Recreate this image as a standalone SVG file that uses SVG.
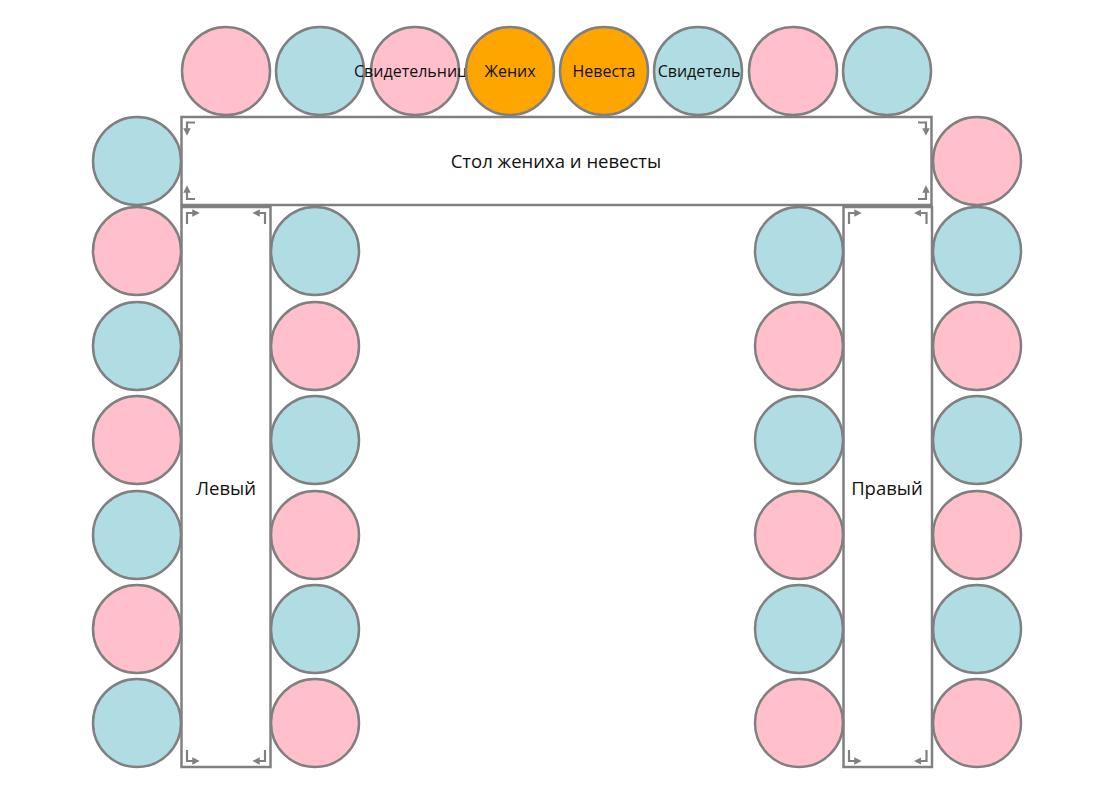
<svg xmlns="http://www.w3.org/2000/svg" width="1108" height="802" viewBox="0 0 1108 802">
<style>
.p{fill:#FFC0CB;stroke:#808080;stroke-width:2.5}
.b{fill:#B0DDE4;stroke:#808080;stroke-width:2.5}
.o{fill:#FFA500;stroke:#808080;stroke-width:2.5}
.t{fill:#fff;stroke:#808080;stroke-width:2.5}
.c{fill:none;stroke:#808080;stroke-width:2.2;marker-end:url(#ah)}
text{font-family:"Open Sans","Noto Sans","Liberation Sans",sans-serif;fill:#111;text-anchor:middle;dominant-baseline:central}
.s{font-size:16px}
.l{font-size:18.5px}
</style>
<defs>
<marker id="ah" viewBox="0 0 6 6" refX="3" refY="3" markerWidth="3.4" markerHeight="3.4" orient="auto" markerUnits="strokeWidth">
<path d="M0,0 L6,3 L0,6 z" fill="#808080"/>
</marker>
</defs>
<rect width="1108" height="802" fill="#fff"/>
<g id="table-top"><rect class="t" x="181.5" y="117" width="750" height="88"/><text class="l" x="556" y="160">Стол жениха и невесты</text>
<path class="c" d="M195,122.5 H187 V132"/><path class="c" d="M195,199 H187 V189"/><path class="c" d="M918,122.5 H926 V132"/><path class="c" d="M918,199 H926 V189"/></g>
<g id="table-left"><rect class="t" x="181.5" y="207" width="89" height="560"/><text class="l" x="226" y="487">Левый</text>
<path class="c" d="M187,224 V213 H196"/><path class="c" d="M265,224 V213 H256"/><path class="c" d="M187,750 V761 H196"/><path class="c" d="M265,750 V761 H256"/></g>
<g id="table-right"><rect class="t" x="843.5" y="207" width="88.5" height="560"/><text class="l" x="887" y="487">Правый</text>
<path class="c" d="M849,224 V213 H858"/><path class="c" d="M926.5,224 V213 H917.5"/><path class="c" d="M849,750 V761 H858"/><path class="c" d="M926.5,750 V761 H917.5"/></g>
<g id="top1"><circle class="p" cx="226" cy="71" r="44"/></g>
<g id="top2"><circle class="b" cx="320" cy="71" r="44"/></g>
<g id="top3"><circle class="p" cx="415" cy="71" r="44"/><text class="s" x="415" y="71">Свидетельница</text></g>
<g id="top4"><circle class="o" cx="510" cy="71" r="44"/><text class="s" x="510" y="71">Жених</text></g>
<g id="top5"><circle class="o" cx="604" cy="71" r="44"/><text class="s" x="604" y="71">Невеста</text></g>
<g id="top6"><circle class="b" cx="698" cy="71" r="44"/><text class="s" x="699" y="71">Свидетель</text></g>
<g id="top7"><circle class="p" cx="793" cy="71" r="44"/></g>
<g id="top8"><circle class="b" cx="887" cy="71" r="44"/></g>
<g id="lo1"><circle class="b" cx="137" cy="161" r="44"/></g>
<g id="lo2"><circle class="p" cx="137" cy="251" r="44"/></g>
<g id="lo3"><circle class="b" cx="137" cy="346" r="44"/></g>
<g id="lo4"><circle class="p" cx="137" cy="440" r="44"/></g>
<g id="lo5"><circle class="b" cx="137" cy="535" r="44"/></g>
<g id="lo6"><circle class="p" cx="137" cy="629" r="44"/></g>
<g id="lo7"><circle class="b" cx="137" cy="723" r="44"/></g>
<g id="li1"><circle class="b" cx="315" cy="251" r="44"/></g>
<g id="li2"><circle class="p" cx="315" cy="346" r="44"/></g>
<g id="li3"><circle class="b" cx="315" cy="440" r="44"/></g>
<g id="li4"><circle class="p" cx="315" cy="535" r="44"/></g>
<g id="li5"><circle class="b" cx="315" cy="629" r="44"/></g>
<g id="li6"><circle class="p" cx="315" cy="723" r="44"/></g>
<g id="ri1"><circle class="b" cx="799" cy="251" r="44"/></g>
<g id="ri2"><circle class="p" cx="799" cy="346" r="44"/></g>
<g id="ri3"><circle class="b" cx="799" cy="440" r="44"/></g>
<g id="ri4"><circle class="p" cx="799" cy="535" r="44"/></g>
<g id="ri5"><circle class="b" cx="799" cy="629" r="44"/></g>
<g id="ri6"><circle class="p" cx="799" cy="723" r="44"/></g>
<g id="ro1"><circle class="p" cx="977" cy="161" r="44"/></g>
<g id="ro2"><circle class="b" cx="977" cy="251" r="44"/></g>
<g id="ro3"><circle class="p" cx="977" cy="346" r="44"/></g>
<g id="ro4"><circle class="b" cx="977" cy="440" r="44"/></g>
<g id="ro5"><circle class="p" cx="977" cy="535" r="44"/></g>
<g id="ro6"><circle class="b" cx="977" cy="629" r="44"/></g>
<g id="ro7"><circle class="p" cx="977" cy="723" r="44"/></g>
<g id="connectors"></g>
</svg>
